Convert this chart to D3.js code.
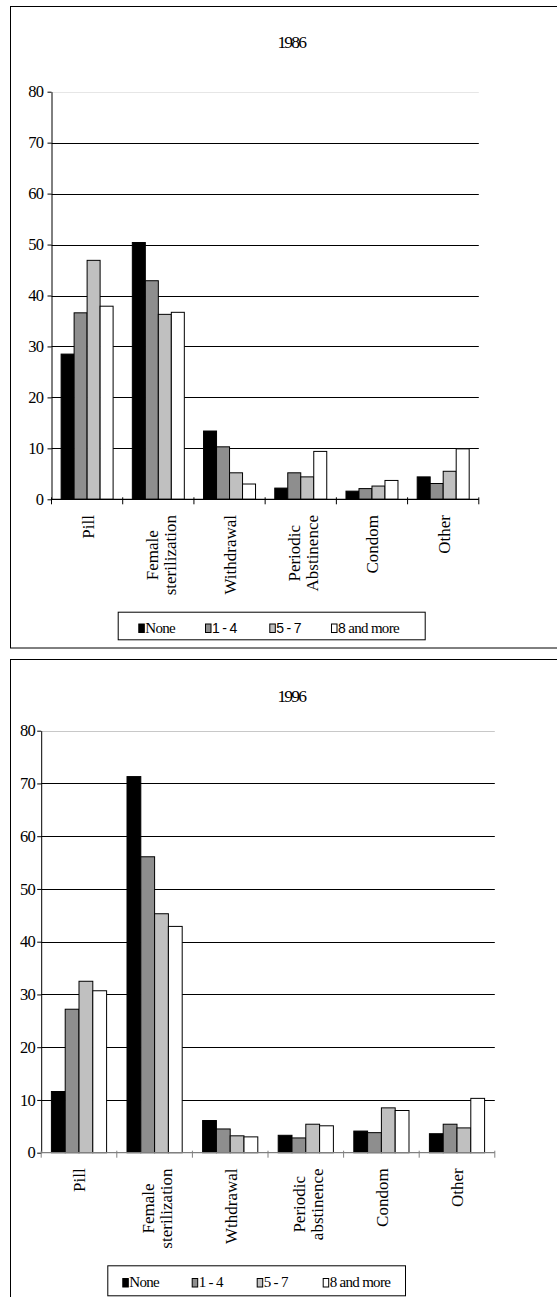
<!DOCTYPE html>
<html>
<head>
<meta charset="utf-8">
<script src="https://d3js.org/d3.v7.min.js"></script>
<style>
  body { margin: 0; background: #fff; }
  svg { display: block; }
</style>
</head>
<body>
<svg width="557" height="1297"></svg>
<script>
// data (percent)
const groups = ["None", "1 - 4", "5 - 7", "8 and more"];
const colors = ["#000000", "#8e8e8e", "#c0c0c0", "#ffffff"];
const yTicks = [0, 10, 20, 30, 40, 50, 60, 70, 80];

const cats1986 = ["Pill", "Female\nsterilization", "Withdrawal", "Periodic\nAbstinence", "Condom", "Other"];
const none1986 = [28.5, 50.4, 13.4, 2.2, 1.6, 4.4];
const low1986  = [36.6, 42.9, 10.3, 5.2, 2.1, 3.1];
const mid1986  = [46.9, 36.3, 5.2, 4.4, 2.6, 5.5];
const high1986 = [37.9, 36.7, 3.0, 9.4, 3.7, 9.9];

const cats1996 = ["Pill", "Female\nsterilization", "Wthdrawal", "Periodic\nabstinence", "Condom", "Other"];
const none1996 = [11.6, 71.3, 6.1, 3.3, 4.1, 3.6];
const low1996  = [27.2, 56.1, 4.5, 2.8, 3.8, 5.4];
const mid1996  = [32.5, 45.3, 3.2, 5.4, 8.5, 4.7];
const high1996 = [30.7, 42.9, 3.0, 5.1, 8.0, 10.3];

const serif = "'Liberation Serif', 'Times New Roman', serif";
const sans = "'Liberation Sans', Arial, sans-serif";

let svg = d3.select("svg");

// layout of the two panels
const charts = [
  { title: "1986", cats: cats1986, series: [none1986, low1986, mid1986, high1986],
    frameTop: 6.5, frameH: 641.5, titleY: 48,
    left: 51.5, right: 478.8, y0: 499.3, yTop: 91.7, topGrid: "#e6e6e6", xAxisColor: "#000",
    tickPad: 4,
    legend: { x: 117.7, y: 611.7, w: 307, h: 27.6, itemX: [138.3, 205, 269.3, 331], keyY: 623.5, mixed: true } },
  { title: "1996", cats: cats1996, series: [none1996, low1996, mid1996, high1996],
    frameTop: 659.5, frameH: 700, titleY: 701.7,
    left: 41.2, right: 494.8, y0: 1152.7, yTop: 730.7, topGrid: "#c8c8c8", xAxisColor: "#808080",
    tickPad: 2,
    legend: { x: 107.3, y: 1265.3, w: 297.7, h: 30, itemX: [122.3, 191.7, 256.7, 322.7], keyY: 1278, mixed: false } }
];

charts.forEach(c => {
  let g = svg.append("g");

  // outer frame (runs off the right edge like the source)
  g.append("rect")
    .attr("x", 10.5).attr("y", c.frameTop)
    .attr("width", 620).attr("height", c.frameH)
    .attr("fill", "none").attr("stroke", "#000").attr("stroke-width", 1);

  g.append("text")
    .attr("x", 291.3).attr("y", c.titleY)
    .attr("text-anchor", "middle")
    .attr("font-family", serif).attr("font-size", 17.5)
    .attr("letter-spacing", -1.8)
    .text(c.title);

  let yScale = d3.scaleLinear().domain([0, 80]).range([c.y0, c.yTop]);
  let x0 = d3.scaleBand().domain(d3.range(c.cats.length))
    .range([c.left, c.right]).paddingInner(0.27).paddingOuter(0.135);
  let x1 = d3.scaleBand().domain(d3.range(groups.length)).range([0, x0.bandwidth()]);
  let xEdge = d3.scaleLinear().domain([0, c.cats.length]).range([c.left, c.right]);

  // gridlines
  g.append("g").selectAll("line").data(yTicks.filter(t => t > 0)).join("line")
    .attr("x1", c.left).attr("x2", c.right)
    .attr("y1", d => Math.round(yScale(d)) + 0.5).attr("y2", d => Math.round(yScale(d)) + 0.5)
    .attr("stroke", d => d === 80 ? c.topGrid : "#000")
    .attr("stroke-width", 1);

  // bars
  c.series.forEach((vals, si) => {
    g.append("g").selectAll("rect").data(vals).join("rect")
      .attr("x", (d, i) => x0(i) + x1(si))
      .attr("y", d => yScale(d))
      .attr("width", x1.bandwidth())
      .attr("height", d => c.y0 - yScale(d))
      .attr("fill", colors[si])
      .attr("stroke", "#000").attr("stroke-width", 1);
  });

  // y axis
  let leftAxis = d3.axisLeft(yScale).tickValues(yTicks).tickSize(4).tickSizeOuter(0).tickPadding(c.tickPad);
  let ya = g.append("g").attr("transform", `translate(${c.left},0)`).call(leftAxis);
  ya.selectAll("text").attr("font-family", serif).attr("font-size", 16.5)
    .attr("letter-spacing", -0.6).attr("fill", "#000");
  ya.selectAll("line, path").attr("stroke", "#000");

  // x axis line with crossing ticks
  g.append("line")
    .attr("x1", c.left).attr("x2", c.right)
    .attr("y1", c.y0).attr("y2", c.y0)
    .attr("stroke", c.xAxisColor).attr("stroke-width", 1.2);
  g.append("g").selectAll("line").data(d3.range(c.cats.length + 1)).join("line")
    .attr("x1", d => xEdge(d)).attr("x2", d => xEdge(d))
    .attr("y1", c.y0 - 2).attr("y2", c.y0 + 5)
    .attr("stroke", c.xAxisColor).attr("stroke-width", 1);

  // rotated category labels, block top just under the axis
  const lineH = 18;
  c.cats.forEach((cat, i) => {
    let lines = cat.split("\n");
    let cx = x0(i) + x0.bandwidth() / 2;
    let lab = g.append("g");
    let texts = lines.map((ln, li) => lab.append("text")
      .attr("font-family", serif).attr("font-size", 17)
      .attr("text-anchor", "middle")
      .attr("y", (li - (lines.length - 1) / 2) * lineH + (lines.length > 1 ? 2 : 0))
      .attr("dy", "0.38em")
      .text(ln));
    let maxLen = d3.max(texts, t => t.node().getComputedTextLength());
    texts.forEach(t => t.attr("x", -maxLen / 2));
    lab.attr("transform", `translate(${cx},${c.y0 + 15.7}) rotate(-90)`);
  });

  // legend
  let L = c.legend;
  g.append("rect")
    .attr("x", L.x + 0.5).attr("y", L.y + 0.5)
    .attr("width", L.w).attr("height", L.h)
    .attr("fill", "#fff").attr("stroke", "#000").attr("stroke-width", 1);
  groups.forEach((name, gi) => {
    g.append("rect")
      .attr("x", L.itemX[gi] + 0.5).attr("y", L.keyY + 0.5)
      .attr("width", 5.5).attr("height", 8.5)
      .attr("fill", colors[gi]).attr("stroke", "#000").attr("stroke-width", 1);
    let t = g.append("text")
      .attr("x", L.itemX[gi] + 7).attr("y", L.keyY + 9.3)
      .attr("font-size", 15).attr("letter-spacing", -0.7);
    let parts = name.match(/[0-9\- ]+|[A-Za-z ]+/g);
    parts.forEach(p => {
      let isNum = L.mixed && /\d/.test(p);
      t.append("tspan")
        .attr("font-family", isNum ? sans : serif)
        .attr("font-size", isNum ? 14 : 15)
        .text(p);
    });
  });
});
</script>
</body>
</html>
